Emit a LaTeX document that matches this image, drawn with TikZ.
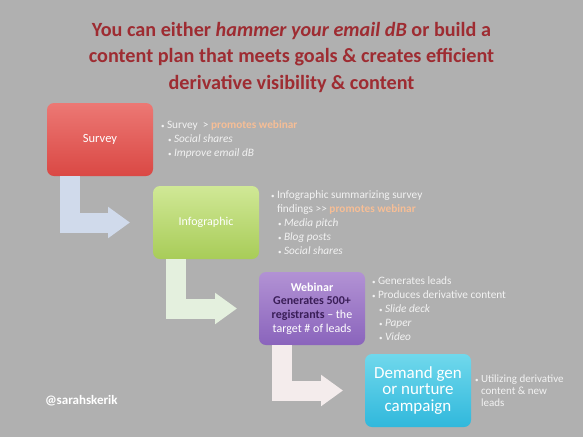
\documentclass[tikz,border=0pt]{standalone}
\usepackage{fontspec}
\setmainfont{Carlito}
\usetikzlibrary{arrows.meta,positioning}
\definecolor{SlideGray}{RGB}{176,176,176}
\definecolor{TitleRed}{RGB}{158,44,50}
\definecolor{NoteWhite}{RGB}{242,242,242}
\definecolor{Peach}{RGB}{246,190,150}
\definecolor{SurveyTop}{RGB}{236,120,116}
\definecolor{SurveyBottom}{RGB}{218,72,68}
\definecolor{InfoTop}{RGB}{208,232,150}
\definecolor{InfoBottom}{RGB}{168,204,88}
\definecolor{WebinarTop}{RGB}{178,146,212}
\definecolor{WebinarBottom}{RGB}{138,100,188}
\definecolor{WebinarInk}{RGB}{58,30,88}
\definecolor{DemandTop}{RGB}{112,216,236}
\definecolor{DemandBottom}{RGB}{48,184,220}
\definecolor{ArrowBlue}{RGB}{208,218,235}
\definecolor{ArrowGreen}{RGB}{228,240,222}
\definecolor{ArrowPink}{RGB}{244,236,236}
\newcommand{\mainpt}{\makebox[6pt][l]{\fontsize{7}{7}\selectfont\textbullet}}
\newcommand{\subpt}{\hspace*{7pt}\mainpt}
\newcommand{\hangpt}{\hspace*{6pt}}

\begin{document}
\begin{tikzpicture}[x=1pt, y=-1pt,
    every node/.style={inner sep=0pt, outer sep=0pt},
    stepbox/.style={rounded corners=7pt, minimum width=106pt, minimum height=73pt,
        align=center, text=white},
    notes/.style={align=left, text=NoteWhite, font=\fontsize{11.3}{14}\selectfont},
    bentarrow/.style={line width=20pt, -{Triangle[length=22pt, width=30pt]}}]
\fill[SlideGray] (0,0) rectangle (583,437);
\useasboundingbox (0,0) rectangle (583,437);
% title
\node[font=\bfseries\fontsize{20.2}{26.5}\selectfont, text=TitleRed, align=center] (title) at (291.5,57)
    {You can either \textit{hammer your email dB} or build a\\
     content plan that meets goals \& creates efficient\\
     derivative visibility \& content};
% steps
\node[stepbox, top color=SurveyTop, bottom color=SurveyBottom, anchor=north west,
    font=\fontsize{12.5}{14}\selectfont] (survey) at (47,103) {Survey};
\node[stepbox, top color=InfoTop, bottom color=InfoBottom,
    below right=10pt and 0pt of survey.south east,
    font=\fontsize{12}{14}\selectfont] (infographic) {Infographic};
\node[stepbox, top color=WebinarTop, bottom color=WebinarBottom,
    below right=13pt and 0pt of infographic.south east,
    font=\bfseries\fontsize{12}{13.7}\selectfont] (webinar)
    {Webinar\\ \textcolor{WebinarInk}{Generates 500+}\\
     \textcolor{WebinarInk}{registrants} {\mdseries -- the}\\ {\mdseries target \# of leads}};
\node[stepbox, top color=DemandTop, bottom color=DemandBottom,
    below right=9pt and 0pt of webinar.south east,
    font=\fontsize{17}{16.5}\selectfont] (demand) {Demand gen\\ or nurture\\ campaign};
% bent arrows
\draw[bentarrow, draw=ArrowBlue] ([xshift=23pt]survey.south west) |- ([xshift=-23pt]infographic.west);
\draw[bentarrow, draw=ArrowGreen] ([xshift=23pt]infographic.south west) |- ([xshift=-22pt]webinar.west);
\draw[bentarrow, draw=ArrowPink] ([xshift=23pt]webinar.south west) |- ([xshift=-22pt]demand.west);
% notes
\node[notes, right=8pt of survey] (surveynotes)
    {\mainpt Survey \ > \textcolor{Peach}{\bfseries promotes webinar}\\
     \subpt\textit{Social shares}\\
     \subpt\textit{Improve email dB}};
\node[notes, right=12pt of infographic] (infonotes)
    {\mainpt Infographic summarizing survey\\
     \hangpt findings {>}{>} \textcolor{Peach}{\bfseries promotes webinar}\\
     \subpt\textit{Media pitch}\\
     \subpt\textit{Blog posts}\\
     \subpt\textit{Social shares}};
\node[notes, right=7pt of webinar] (webinarnotes)
    {\mainpt Generates leads\\
     \mainpt Produces derivative content\\
     \subpt\textit{Slide deck}\\
     \subpt\textit{Paper}\\
     \subpt\textit{Video}};
\node[notes, font=\fontsize{11}{12}\selectfont, right=4pt of demand] (demandnotes)
    {\mainpt Utilizing derivative\\
     \hangpt content \& new\\
     \hangpt leads};
\node[font=\bfseries\fontsize{13}{14}\selectfont, text=white, anchor=west] (handle) at (45,401) {@sarahskerik};
\end{tikzpicture}
\end{document}
